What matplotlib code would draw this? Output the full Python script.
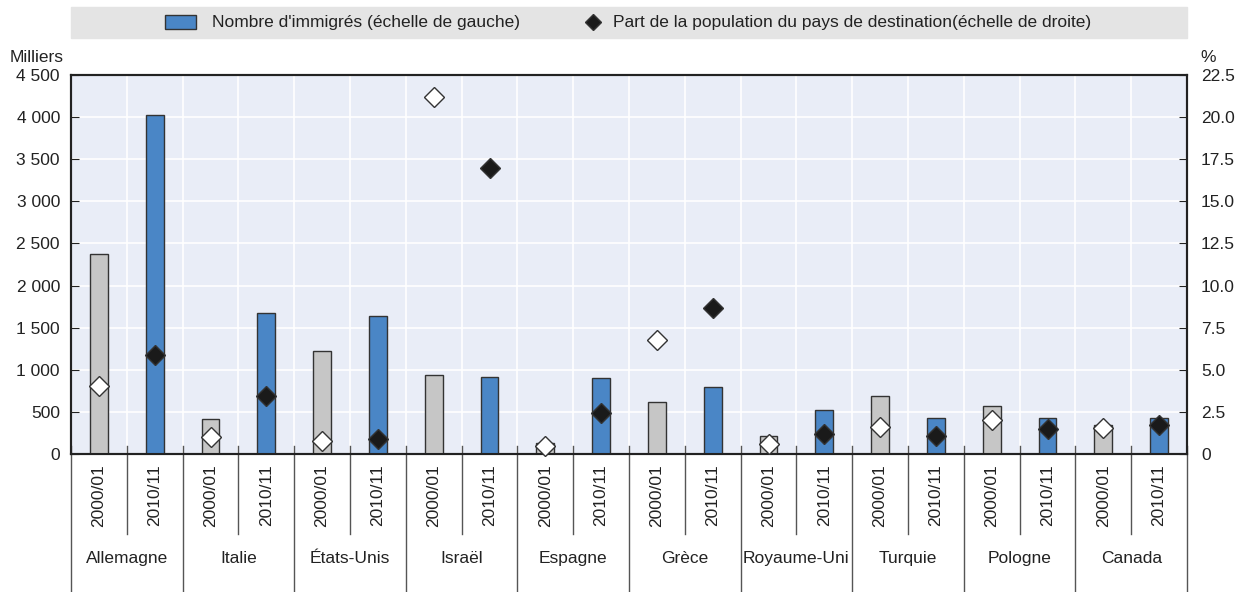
import matplotlib
matplotlib.use("Agg")
import matplotlib.pyplot as plt
from matplotlib.patches import Rectangle
from matplotlib.lines import Line2D
from matplotlib.ticker import FuncFormatter
import numpy as np

plt.rcParams['font.family'] = ['Liberation Sans', 'DejaVu Sans']

countries = ['Allemagne', 'Italie', 'États-Unis', 'Israël', 'Espagne',
             'Grèce', 'Royaume-Uni', 'Turquie', 'Pologne', 'Canada']
periods = ['2000/01', '2010/11']
# immigrants (thousands), left axis
imm_2000 = [2380, 410, 1225, 940, 130, 615, 210, 690, 570, 345]
imm_2010 = [4020, 1680, 1640, 915, 905, 795, 520, 430, 430, 430]
# share of destination population (%), right axis
share_2000 = [4.05, 1.0, 0.75, 21.2, 0.5, 6.75, 0.6, 1.6, 2.0, 1.55]
share_2010 = [5.85, 3.45, 0.9, 17.0, 2.45, 8.65, 1.2, 1.05, 1.5, 1.7]

blue = '#4a86c6'
grey = '#c6c6c6'
edge = '#333333'
bg = '#e9edf7'
txt = '#222222'
fs = 12.5

fig = plt.figure(figsize=(12.46, 5.92), dpi=100)
ax = fig.add_axes([71/1246, 1-454/592, (1187-71)/1246, (454-75)/592])
ax.set_facecolor(bg)

n = len(countries)
x0 = np.arange(n)*2
x1 = x0 + 1
w = 0.32
ax.bar(x0, imm_2000, width=w, color=grey, edgecolor=edge, linewidth=1, zorder=3)
ax.bar(x1, imm_2010, width=w, color=blue, edgecolor=edge, linewidth=1, zorder=3)

ax.set_xlim(-0.5, 2*n-0.5)
ax.set_ylim(0, 4500)
ax.set_yticks(np.arange(0, 4501, 500))
ax.yaxis.set_major_formatter(FuncFormatter(lambda v, p: f'{int(v):,}'.replace(',', ' ')))
ax.tick_params(axis='y', direction='in', length=6, labelsize=fs, colors=txt, pad=8)
ax.set_xticks([])
for v in np.arange(0.5, 2*n-0.5, 1):
    ax.axvline(v, color='white', lw=1.2, zorder=1)
for v in np.arange(500, 4500, 500):
    ax.axhline(v, color='white', lw=1.2, zorder=1)

ax2 = ax.twinx()
ax2.set_ylim(0, 22.5)
ax2.set_yticks(np.arange(0, 22.6, 2.5))
ax2.yaxis.set_major_formatter(FuncFormatter(lambda v, p: '0' if v == 0 else f'{v:.1f}'))
ax2.tick_params(axis='y', direction='in', length=6, labelsize=fs, colors=txt, pad=10)
ax2.plot(x0, share_2000, 'D', ms=10, mfc='white', mec=edge, mew=1, zorder=5, clip_on=False)
ax2.plot(x1, share_2010, 'D', ms=10, mfc='#1a1a1a', mec=edge, mew=1, zorder=5, clip_on=False)

for a in (ax, ax2):
    for s in a.spines.values():
        s.set_color(txt)
        s.set_linewidth(1.5)

# category axis: separators and labels
tr = ax.get_xaxis_transform()
for i in range(n):
    ax.text(x0[i], -0.028, periods[0], rotation=90, ha='center', va='top',
            fontsize=fs, transform=tr, color=txt)
    ax.text(x1[i], -0.028, periods[1], rotation=90, ha='center', va='top',
            fontsize=fs, transform=tr, color=txt)
    ax.text(x0[i]+0.5, -0.276, countries[i], ha='center', va='center',
            fontsize=fs, transform=tr, color=txt)
    ax.add_line(Line2D([x0[i]+0.5]*2, [0.021, -0.211], transform=tr,
                       color='#555555', lw=1, clip_on=False))
for b in np.arange(-0.5, 2*n, 2):
    ax.add_line(Line2D([b, b], [0.021, -0.38], transform=tr,
                       color='#555555', lw=1, clip_on=False))

fig.text(10/1246, 1-58/592, 'Milliers', fontsize=fs, va='center', ha='left', color=txt)
fig.text(1200/1246, 1-57/592, '%', fontsize=fs, va='center', ha='left', color=txt)

# legend band
fig.patches.append(Rectangle((71/1246, 1-38/592), (1187-71)/1246, 31/592,
                             transform=fig.transFigure, color='#e4e4e4', zorder=0))
fig.patches.append(Rectangle((165/1246, 1-29/592), 31/1246, 14/592,
                             transform=fig.transFigure, facecolor=blue, edgecolor=edge, lw=1))
fig.text(212/1246, 1-22/592, "Nombre d'immigrés (échelle de gauche)", fontsize=fs,
         va='center', ha='left', color=txt)
fig.lines.append(Line2D([593/1246], [1-22/592], marker='D', ms=8, mfc='#1a1a1a', mec=edge,
                        transform=fig.transFigure))
fig.text(613/1246, 1-22/592, "Part de la population du pays de destination(échelle de droite)",
         fontsize=fs, va='center', ha='left', color=txt)

fig.savefig('out.png', dpi=100)
